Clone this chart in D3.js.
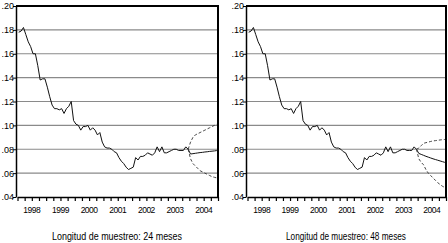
<!DOCTYPE html>
<html>
<head>
<meta charset="utf-8">
<script src="https://cdn.jsdelivr.net/npm/d3@7"></script>
<style>
  body { margin: 0; background: #fff; }
  svg { display: block; font-family: "Liberation Sans", Arial, sans-serif; }
</style>
</head>
<body>
<div id="chart"></div>
<script>
// monthly series, 1998M1 .. 2003M12
const actual = [
  0.178, 0.179, 0.182, 0.176, 0.170, 0.166, 0.160, 0.160, 0.150, 0.138, 0.139, 0.139,
  0.132, 0.124, 0.117, 0.114, 0.114, 0.113, 0.114, 0.110, 0.114, 0.116, 0.120, 0.104,
  0.101, 0.100, 0.096, 0.099, 0.099, 0.100, 0.096, 0.098, 0.096, 0.092, 0.094, 0.086,
  0.082, 0.081, 0.081, 0.080, 0.078, 0.077, 0.073, 0.070, 0.068, 0.065, 0.063, 0.064,
  0.065, 0.073, 0.071, 0.074, 0.074, 0.075, 0.077, 0.076, 0.075, 0.077, 0.082, 0.078,
  0.082, 0.077, 0.077, 0.078, 0.079, 0.080, 0.080, 0.079, 0.079, 0.079, 0.082, 0.080
]
// forecasts 2004M1 .. 2004M12
const fcMid24 = [0.0760, 0.0763, 0.0766, 0.0769, 0.0772, 0.0774, 0.0777, 0.0779, 0.0782, 0.0784, 0.0786, 0.0789]
const fcHi24 = [0.086, 0.090, 0.092, 0.093, 0.094, 0.095, 0.096, 0.097, 0.098, 0.099, 0.100, 0.101]
const fcLo24 = [0.072, 0.068, 0.066, 0.064, 0.062, 0.061, 0.060, 0.059, 0.058, 0.057, 0.0565, 0.056]
const fcMid48 = [0.0765, 0.0757, 0.0749, 0.0741, 0.0734, 0.0727, 0.0720, 0.0714, 0.0708, 0.0702, 0.0696, 0.0690]
const fcHi48 = [0.081, 0.083, 0.085, 0.0855, 0.086, 0.0865, 0.087, 0.0872, 0.0875, 0.0878, 0.088, 0.0882]
const fcLo48 = [0.072, 0.069, 0.067, 0.063, 0.060, 0.058, 0.056, 0.054, 0.052, 0.0505, 0.049, 0.048]

const years = [1998, 1999, 2000, 2001, 2002, 2003, 2004]
const yTicks = [0.04, 0.06, 0.08, 0.10, 0.12, 0.14, 0.16, 0.18, 0.20]
const captions = ['Longitud de muestreo: 24 meses', 'Longitud de muestreo: 48 meses']

const W = 448, H = 243
const svg = d3.select('#chart').append('svg').attr('width', W).attr('height', H)

const monthTime = i => 1998 + (i + 0.5) / 12
const tickFmt = d => d3.format('.2f')(d).replace(/^0/, '')

function drawPanel({ left, right, mid, hi, lo, caption, capWidth }) {
  const top = 6, bottom = 197
  const g = svg.append('g')

  const x = d3.scaleLinear().domain([1998, 2005]).range([left + 1.5, right])
  const y = d3.scaleLinear().domain([0.04, 0.20]).range([bottom, top])

  // grid
  g.selectAll('.grid')
    .data(yTicks.filter(d => d > 0.041 && d < 0.199))
    .enter().append('line')
    .attr('x1', left).attr('x2', right)
    .attr('y1', d => y(d)).attr('y2', d => y(d))
    .attr('stroke', '#8a8a8a').attr('stroke-width', 1.2)

  // axes
  const axisY = d3.axisLeft(y).tickValues(yTicks).tickFormat(tickFmt).tickSize(3).tickSizeOuter(0)
  g.append('g').attr('transform', `translate(${left},0)`).call(axisY)
    .call(s => s.select('.domain').attr('stroke-width', 1.5))
    .call(s => s.selectAll('text').attr('font-size', 9).attr('x', -2).attr('fill', '#000')
      .attr('font-family', '"Liberation Sans", Arial, sans-serif'))

  const quarters = d3.range(1998, 2005.01, 0.25)
  const axisX = d3.axisBottom(x).tickValues(quarters).tickFormat('').tickSize(4).tickSizeOuter(0)
  g.append('g').attr('transform', `translate(0,${bottom})`).call(axisX)
    .call(s => s.select('.domain').attr('stroke-width', 1.5))
    .call(s => s.selectAll('.tick line').attr('stroke-width', 1.2))

  g.selectAll('.yr')
    .data(years)
    .enter().append('text')
    .attr('x', d => x(d + 0.5))
    .attr('y', 213)
    .attr('text-anchor', 'middle')
    .attr('font-size', 8.5)
    .attr('letter-spacing', -0.5)
    .text(d => d)

  // frame top and right
  g.append('path')
    .attr('d', `M${left},${top}H${right}V${bottom}`)
    .attr('fill', 'none').attr('stroke', '#000').attr('stroke-width', 2)

  const line = d3.line().x(d => x(d.t)).y(d => y(d.v))
  const actualPts = actual.map((v, i) => ({ t: monthTime(i), v }))
  const last = actualPts[actualPts.length - 1]
  const fc = arr => [last].concat(arr.map((v, i) => ({ t: monthTime(actual.length + i), v })))

  g.append('path').datum(actualPts).attr('d', line)
    .attr('fill', 'none').attr('stroke', '#111').attr('stroke-width', 1)
  g.append('path').datum(fc(mid)).attr('d', line)
    .attr('fill', 'none').attr('stroke', '#111').attr('stroke-width', 1)
  ;[hi, lo].forEach(arr => {
    g.append('path').datum(fc(arr)).attr('d', line)
      .attr('fill', 'none').attr('stroke', '#333').attr('stroke-width', 0.9)
      .attr('stroke-dasharray', '3,2')
  })

  g.append('text')
    .attr('x', (left + right) / 2)
    .attr('y', 240)
    .attr('text-anchor', 'middle')
    .attr('font-size', 10)
    .attr('textLength', capWidth)
    .attr('lengthAdjust', 'spacingAndGlyphs')
    .text(caption)
}

drawPanel({ left: 16, right: 218, mid: fcMid24, hi: fcHi24, lo: fcLo24, caption: captions[0], capWidth: 130 })
drawPanel({ left: 246, right: 446, mid: fcMid48, hi: fcHi48, lo: fcLo48, caption: captions[1], capWidth: 120 })
</script>
</body>
</html>
